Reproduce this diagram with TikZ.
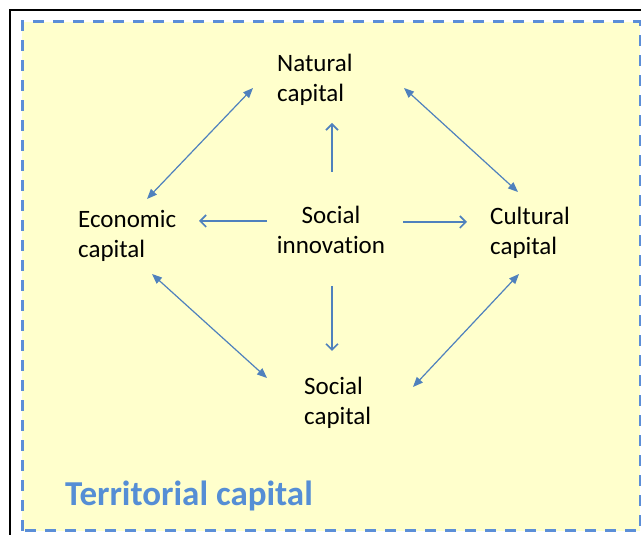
\documentclass[tikz,border=0pt]{standalone}
\usepackage{fontspec}
\setmainfont{Carlito}[Ligatures=NoCommon]
\usetikzlibrary{arrows.meta,calc}
\definecolor{bgyellow}{HTML}{FFFFCC}
\definecolor{dashblue}{HTML}{5B8ED8}
\definecolor{arrowblue}{HTML}{4F81BD}
\definecolor{titleblue}{HTML}{558ED5}
\tikzset{
  lbl/.style={font=\fontsize{25}{30}\selectfont, inner sep=0pt, text=black},
  centerarrow/.style={draw=arrowblue, line width=1.8pt, -{Straight Barb[length=6pt,width=12pt,line width=1.6pt]}},
  diagarrow/.style={draw=arrowblue, line width=1.2pt, {Triangle[length=10pt,width=8pt]}-{Triangle[length=10pt,width=8pt]}}
}
\begin{document}
\begin{tikzpicture}[x=1pt,y=1pt]
\useasboundingbox (0,0) rectangle (641,535);
% outer black frame (open at right and bottom)
\draw[black, line width=2pt] (10,-10) -- (10,525) -- (660,525);
% yellow dashed panel
\fill[bgyellow] (22,4) rectangle (640,513);
\draw[dashblue, line width=3pt, dash pattern=on 11pt off 9pt] (22,4) rectangle (640,513);

% nodes
\node[lbl, anchor=west, align=left] (nat) at (277,455) {Natural\\capital};
\node[lbl, anchor=west, align=left] (econ) at (78,299) {Economic\\capital};
\node[lbl, align=center] (si) at (331,305) {Social\\innovation};
\node[lbl, anchor=west, align=left] (cult) at (490,302) {Cultural\\capital};
\node[lbl, anchor=west, align=left] (soc) at (304,132) {Social\\capital};
\node[anchor=west, inner sep=0pt, font=\fontsize{35}{40}\selectfont\bfseries, text=titleblue] (terr) at (65,39) {Territorial capital};

% center arrows
\draw[centerarrow] ($(si)+(1,58)$) -- ($(nat.west)+(55,-43)$);
\draw[centerarrow] ($(si)+(-64,9)$) -- ($(econ.west)+(121,15)$);
\draw[centerarrow] ($(si)+(72,8)$) -- ($(cult.west)+(-23,11)$);
\draw[centerarrow] ($(si)+(1,-56)$) -- ($(soc.west)+(28,52)$);

% diagonal double arrows
\draw[diagarrow] ($(econ.west)+(69,37)$) -- ($(nat.west)+(-24,-8)$);
\draw[diagarrow] ($(nat.west)+(127,-8)$) -- ($(cult.west)+(28,41)$);
\draw[diagarrow] ($(econ.west)+(74,-38)$) -- ($(soc.west)+(-37,25)$);
\draw[diagarrow] ($(cult.west)+(29,-41)$) -- ($(soc.west)+(109,16)$);
\end{tikzpicture}
\end{document}
